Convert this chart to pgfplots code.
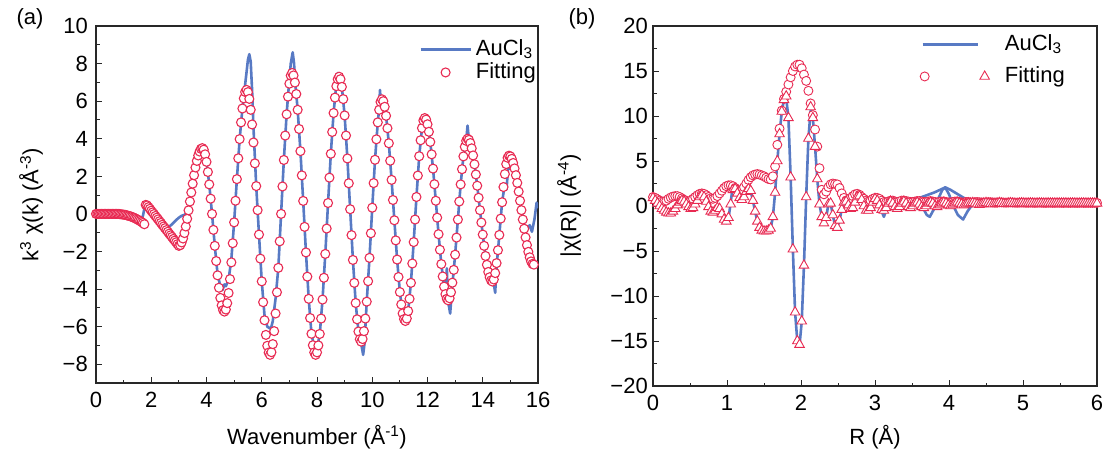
\documentclass[border=0pt]{standalone}
\usepackage{fontspec}
\setmainfont{Liberation Sans}
\usepackage{pgfplots}
\pgfplotsset{compat=1.18}
\definecolor{cblue}{RGB}{88,122,196}
\definecolor{cred}{RGB}{232,42,82}
\definecolor{caxis}{RGB}{40,40,40}
\pgfplotsset{
  myax/.style={
    scale only axis,
    axis line style={caxis, line width=1.1pt},
    every tick/.style={caxis, line width=1pt},
    tick align=inside,
    major tick length=6pt,
    minor tick length=3.5pt,
    xtick pos=lower, ytick pos=left,
    tick label style={font=\fontsize{22}{26}\selectfont},
    label style={font=\fontsize{22}{26}\selectfont},
    legend style={font=\fontsize{22}{26}\selectfont, draw=none, fill=none, inner sep=0pt,
      nodes={inner sep=0pt, text height=16pt, text depth=4.5pt}},
    legend cell align=left,
    xticklabel style={inner sep=0pt, yshift=-9pt},
  }
}
\begin{document}
\begin{tikzpicture}[font=\fontsize{22}{26}\selectfont]
\useasboundingbox (0,0) rectangle (1107pt,-452pt);
\node at (30pt,-19pt) {(a)};
\node at (582pt,-19pt) {(b)};
% ---------------- left panel ----------------
\begin{axis}[myax, at={(96pt,-383pt)}, anchor=south west, width=442pt, height=357pt,
  xmin=0, xmax=16, ymin=-9, ymax=10,
  xtick={0,2,...,16}, xticklabels={0,2,4,6,8,10,12,14,16}, minor xtick={1,3,...,15},
  ytick={-8,-6,...,10}, yticklabels={−8,−6,−4,−2,0,2,4,6,8,10}, minor ytick={-9,-7,...,9},
  yticklabel style={inner sep=0pt, xshift=-8pt},
  xlabel={Wavenumber (Å\textsuperscript{-1})},
  xlabel style={at={([yshift=-54pt]axis description cs:0.5,0)}, anchor=center},
  ylabel={k\textsuperscript{3} χ(k) (Å\textsuperscript{-3})},
  ylabel style={at={([xshift=-65pt]axis description cs:0,0.5)}, anchor=center},
  legend style={at={(axis description cs:1,1)}, anchor=north east, xshift=-2pt, yshift=-13pt,
    row sep=2.5pt, column sep=4pt},
]
\addplot[cblue, line width=2.6pt, line join=round,
  legend image code/.code={\draw[cblue, line width=2.6pt] (0pt,0pt) -- (50pt,0pt);}]
coordinates {(0,0)(0.5,0)(0.8,0)(1,-0.04)(1.2,-0.11)(1.4,-0.22)(1.6,-0.38)(1.7,-0.1)(1.78,0.5)
(1.9,0.35)(2,0.15)(2.1,-0.05)(2.2,-0.23)(2.3,-0.42)(2.4,-0.58)(2.5,-0.68)(2.6,-0.72)(2.7,-0.62)
(2.8,-0.48)(2.9,-0.33)(3,-0.2)(3.1,-0.1)(3.2,-0.05)(3.3,0.05)(3.4,0.66)(3.5,1.61)(3.6,2.47)
(3.7,3.11)(3.8,3.42)(3.85,3.45)(3.9,3.38)(4,2.77)(4.1,1.57)(4.2,0)(4.3,-1.7)(4.4,-3.2)(4.5,-3.85)
(4.58,-4.05)(4.65,-3.75)(4.7,-3.85)(4.8,-3.5)(4.9,-2.4)(5,-0.45)(5.1,1.85)(5.2,3.98)(5.3,5.61)
(5.4,6.9)(5.5,8.2)(5.55,8.5)(5.6,8.1)(5.65,6.6)(5.7,4.6)(5.8,1.48)(5.9,-1.1)(6,-3.59)(6.1,-5.4)
(6.2,-6)(6.3,-6.1)(6.35,-6)(6.4,-5.7)(6.5,-4.5)(6.6,-2.87)(6.7,0)(6.8,2.87)(6.9,5.3)(7,7.2)
(7.05,8)(7.12,8.6)(7.17,8)(7.2,7.2)(7.3,5.54)(7.4,3.34)(7.5,0.69)(7.6,-2.05)(7.7,-4.52)(7.8,-6.38)
(7.9,-7.1)(7.96,-7.35)(8,-7.2)(8.1,-6.39)(8.2,-4.56)(8.3,-2.13)(8.4,0.58)(8.5,3.2)(8.6,5.37)
(8.7,6.9)(8.75,7.5)(8.8,7.3)(8.9,6.76)(9,5.24)(9.1,2.95)(9.2,0.25)(9.3,-2.45)(9.4,-4.74)(9.5,-6.26)
(9.6,-6.9)(9.67,-7.5)(9.72,-6.9)(9.8,-4.67)(9.9,-2.34)(10,0.33)(10.1,2.88)(10.2,4.87)(10.25,5.6)
(10.28,6.6)(10.31,5.9)(10.4,5.95)(10.5,5.22)(10.6,3.76)(10.7,1.81)(10.8,-0.34)(10.9,-2.43)
(11,-4.16)(11.1,-5.3)(11.2,-5.75)(11.3,-5.17)(11.4,-3.67)(11.5,-1.5)(11.6,0.9)(11.7,3.07)
(11.8,4.57)(11.9,5.2)(12,4.77)(12.1,3.83)(12.2,2.41)(12.3,0.7)(12.4,-1.08)(12.5,-2.67)(12.6,-3.87)
(12.66,-4.3)(12.7,-2.9)(12.74,-4.6)(12.82,-5.3)(12.9,-3.8)(13,-2.17)(13.1,-0.3)(13.2,1.57)
(13.3,3.06)(13.4,3.9)(13.45,4.7)(13.5,3.9)(13.6,3.49)(13.7,2.64)(13.8,1.5)(13.9,0.2)(14,-1.1)
(14.1,-2.24)(14.2,-3.09)(14.3,-3.54)(14.4,-3.7)(14.45,-4.2)(14.5,-2.8)(14.6,-1.12)(14.7,0.62)
(14.8,1.6)(14.86,1.3)(14.92,2.5)(15,2.4)(15.1,2.6)(15.2,2.06)(15.3,1.19)(15.4,0.2)(15.5,-0.6)
(15.6,-0.8)(15.7,-0.6)(15.78,-0.95)(15.87,-0.3)(15.95,0.6)(15.99,0.3)};
\addlegendentry{AuCl\textsubscript{3}}
\addplot[only marks, mark=*, mark size=4.5pt, mark options={draw=cred, fill=white, line width=1.1pt},
  legend image code/.code={\path[draw=none] (0pt,0pt) -- (50pt,0pt); \draw[cred, line width=1.1pt, fill=white] (25pt,0pt) circle[radius=4.5pt];}]
coordinates {(0,0)(0.05,0)(0.1,0)(0.15,0)(0.2,0)(0.25,0)(0.3,0)(0.35,0)(0.4,0)(0.45,0)(0.5,0)
(0.55,0)(0.6,0)(0.65,0)(0.7,0)(0.75,0)(0.8,0)
(0.85,-0.01)(0.9,-0.02)(0.95,-0.03)(1,-0.04)(1.05,-0.05)(1.1,-0.07)(1.15,-0.09)(1.2,-0.11)
(1.25,-0.13)(1.3,-0.16)(1.35,-0.19)(1.4,-0.22)(1.45,-0.26)(1.5,-0.3)(1.55,-0.34)(1.6,-0.38)
(1.65,-0.43)(1.7,-0.48)(1.75,-0.55)
(1.8,0.48)(1.85,0.45)(1.9,0.36)(1.95,0.27)(2,0.17)(2.05,0.08)(2.1,-0.01)(2.15,-0.11)(2.2,-0.2)
(2.25,-0.29)(2.3,-0.39)(2.35,-0.48)(2.4,-0.58)(2.45,-0.67)(2.5,-0.76)(2.55,-0.86)(2.6,-0.95)
(2.65,-1.05)(2.7,-1.14)(2.75,-1.23)(2.8,-1.33)(2.85,-1.42)(2.9,-1.51)(2.95,-1.61)(3,-1.7)
(3.05,-1.66)(3.1,-1.52)(3.15,-1.31)(3.2,-1.02)(3.25,-0.67)(3.3,-0.26)(3.35,0.19)(3.4,0.66)
(3.45,1.14)(3.5,1.61)(3.55,2.06)(3.6,2.47)(3.65,2.82)(3.7,3.11)(3.75,3.32)(3.8,3.46)(3.85,3.5)
(3.9,3.42)(3.95,3.17)(4,2.77)(4.05,2.23)(4.1,1.57)(4.15,0.81)(4.2,0)(4.25,-0.85)(4.3,-1.7)
(4.35,-2.51)(4.4,-3.27)(4.45,-3.93)(4.5,-4.47)(4.55,-4.87)(4.6,-5.12)(4.65,-5.2)
(4.7,-5.09)(4.75,-4.75)(4.8,-4.21)(4.85,-3.47)(4.9,-2.58)(4.95,-1.56)(5,-0.45)(5.05,0.7)
(5.1,1.85)(5.15,2.96)(5.2,3.98)(5.25,4.87)(5.3,5.61)(5.35,6.15)(5.4,6.49)(5.45,6.6)
(5.5,6.48)(5.55,6.12)(5.6,5.54)(5.65,4.76)(5.7,3.8)(5.75,2.69)(5.8,1.48)(5.85,0.2)(5.9,-1.1)
(5.95,-2.38)(6,-3.59)(6.05,-4.7)(6.1,-5.66)(6.15,-6.44)(6.2,-7.02)(6.25,-7.38)(6.3,-7.5)
(6.35,-7.36)(6.4,-6.93)(6.45,-6.24)(6.5,-5.3)(6.55,-4.17)(6.6,-2.87)(6.65,-1.46)(6.7,0)
(6.75,1.46)(6.8,2.87)(6.85,4.17)(6.9,5.3)(6.95,6.24)(7,6.93)(7.05,7.36)(7.1,7.5)
(7.15,7.37)(7.2,6.99)(7.25,6.38)(7.3,5.54)(7.35,4.52)(7.4,3.34)(7.45,2.05)(7.5,0.69)(7.55,-0.69)
(7.6,-2.05)(7.65,-3.34)(7.7,-4.52)(7.75,-5.54)(7.8,-6.38)(7.85,-6.99)(7.9,-7.37)(7.95,-7.5)
(8,-7.37)(8.05,-7)(8.1,-6.39)(8.15,-5.57)(8.2,-4.56)(8.25,-3.4)(8.3,-2.13)(8.35,-0.78)(8.4,0.58)
(8.45,1.93)(8.5,3.2)(8.55,4.36)(8.6,5.37)(8.65,6.19)(8.7,6.8)(8.75,7.17)(8.8,7.3)
(8.85,7.17)(8.9,6.76)(8.95,6.11)(9,5.24)(9.05,4.17)(9.1,2.95)(9.15,1.63)(9.2,0.25)(9.25,-1.13)
(9.3,-2.45)(9.35,-3.67)(9.4,-4.74)(9.45,-5.61)(9.5,-6.26)(9.55,-6.67)(9.6,-6.8)
(9.65,-6.66)(9.7,-6.24)(9.75,-5.57)(9.8,-4.67)(9.85,-3.58)(9.9,-2.34)(9.95,-1.03)(10,0.33)
(10.05,1.64)(10.1,2.88)(10.15,3.97)(10.2,4.87)(10.25,5.54)(10.3,5.96)(10.35,6.1)
(10.4,6)(10.45,5.7)(10.5,5.22)(10.55,4.56)(10.6,3.76)(10.65,2.83)(10.7,1.81)(10.75,0.74)
(10.8,-0.34)(10.85,-1.41)(10.9,-2.43)(10.95,-3.36)(11,-4.16)(11.05,-4.82)(11.1,-5.3)(11.15,-5.6)(11.2,-5.7)
(11.25,-5.57)(11.3,-5.17)(11.35,-4.52)(11.4,-3.67)(11.45,-2.64)(11.5,-1.5)(11.55,-0.3)(11.6,0.9)
(11.65,2.04)(11.7,3.07)(11.75,3.92)(11.8,4.57)(11.85,4.97)(11.9,5.1)
(11.95,5.02)(12,4.77)(12.05,4.37)(12.1,3.83)(12.15,3.17)(12.2,2.41)(12.25,1.58)(12.3,0.7)
(12.35,-0.2)(12.4,-1.08)(12.45,-1.91)(12.5,-2.67)(12.55,-3.33)(12.6,-3.87)(12.65,-4.27)(12.7,-4.52)(12.75,-4.6)
(12.8,-4.49)(12.85,-4.17)(12.9,-3.66)(12.95,-2.98)(13,-2.17)(13.05,-1.26)(13.1,-0.3)(13.15,0.66)
(13.2,1.57)(13.25,2.38)(13.3,3.06)(13.35,3.57)(13.4,3.89)(13.45,4)
(13.5,3.94)(13.55,3.77)(13.6,3.49)(13.65,3.11)(13.7,2.64)(13.75,2.1)(13.8,1.5)(13.85,0.86)
(13.9,0.2)(13.95,-0.46)(14,-1.1)(14.05,-1.7)(14.1,-2.24)(14.15,-2.71)(14.2,-3.09)(14.25,-3.37)(14.3,-3.54)(14.35,-3.6)
(14.4,-3.49)(14.45,-3.15)(14.5,-2.62)(14.55,-1.93)(14.6,-1.12)(14.65,-0.25)(14.7,0.62)(14.75,1.43)
(14.8,2.12)(14.85,2.65)(14.9,2.99)(14.95,3.1)
(15,3.06)(15.05,2.93)(15.1,2.71)(15.15,2.42)(15.2,2.06)(15.25,1.65)(15.3,1.19)(15.35,0.7)(15.4,0.2)
(15.45,-0.3)(15.5,-0.79)(15.55,-1.25)(15.6,-1.66)(15.65,-2.02)(15.7,-2.31)(15.75,-2.53)(15.8,-2.66)(15.85,-2.7)};
\addlegendentry{Fitting}
\end{axis}
% ---------------- right panel ----------------
\begin{axis}[myax, at={(653pt,-386pt)}, anchor=south west, width=444pt, height=360pt,
  xmin=0, xmax=6, ymin=-20, ymax=20,
  xtick={0,1,...,6}, xticklabels={0,1,2,3,4,5,6}, minor xtick={0.5,1.5,...,5.5},
  ytick={-20,-15,...,20}, yticklabels={−20,−15,−10,−5,0,5,10,15,20}, minor ytick={-17.5,-12.5,...,17.5},
  yticklabel style={inner sep=0pt, xshift=-5pt},
  xlabel={R (Å)},
  xlabel style={at={([yshift=-51pt]axis description cs:0.5,0)}, anchor=center},
  ylabel={|χ(R)| (Å\textsuperscript{-4})},
  ylabel style={at={([xshift=-84pt]axis description cs:0,0.5)}, anchor=center},
  legend style={at={(axis description cs:1,1)}, anchor=north east, xshift=-32pt, yshift=-8pt,
    row sep=11.5pt, column sep=15pt},
]
\addplot[cblue, line width=2.6pt, line join=round,
  legend image code/.code={\path[draw=none] (-5pt,0pt) -- (65pt,0pt); \draw[cblue, line width=2.6pt] (-2pt,0pt) -- (53pt,0pt);}]
coordinates {(0,0.9)(0.06,0.3)(0.12,-0.3)(0.18,-0.7)(0.24,-0.8)(0.3,-0.3)(0.36,0.4)(0.42,0.5)
(0.48,-0.1)(0.54,-0.2)(0.6,0.6)(0.66,1.2)(0.72,0.5)(0.78,-0.6)(0.84,-0.5)(0.9,-0.3)(0.93,-1)
(0.96,-1.7)(0.99,-1.9)(1.02,-1.4)(1.05,0.4)(1.08,2.4)(1.11,2.3)(1.14,1.5)(1.17,0.9)(1.2,0.7)
(1.23,1)(1.26,1.6)(1.29,1.9)(1.32,1.7)(1.35,0.6)(1.38,-0.6)(1.41,-1.7)(1.44,-2.4)(1.47,-2.7)
(1.5,-2.8)(1.53,-2.8)(1.56,-2.7)(1.59,-2.5)(1.62,-1.2)(1.65,1.5)(1.68,5)(1.71,8)(1.74,10.5)
(1.77,11.8)(1.8,12)(1.83,9.8)(1.86,3.2)(1.89,-4.8)(1.92,-11.8)(1.95,-15)(1.98,-15.5)(2.01,-12.8)
(2.04,-6.6)(2.07,1)(2.1,7.5)(2.13,10.6)(2.16,9.8)(2.19,6.6)(2.22,3)(2.25,0.2)(2.28,-1.2)
(2.31,-1.9)(2.34,-1.3)(2.37,0.2)(2.4,0.3)(2.43,-1)(2.46,-2.2)(2.49,-2.4)(2.52,-1.6)(2.55,-0.4)
(2.58,0.4)(2.61,0.5)(2.64,0.1)(2.67,-0.3)(2.7,-0.2)(2.76,1)(2.82,0.7)(2.88,-0.5)(2.94,-0.2)
(3,0.8)(3.06,0)(3.12,-1.2)(3.18,0.2)(3.24,0.3)(3.3,-0.3)(3.36,0.3)(3.42,0.3)(3.48,-0.2)(3.54,0.3)
(3.6,0.2)(3.66,-0.4)(3.7,-1)(3.74,-1.2)(3.8,-0.3)(3.86,0.9)(3.91,1.8)(3.95,2.05)(4,1.3)(4.06,0)
(4.12,-1)(4.19,-1.5)(4.25,-0.6)(4.31,0.1)(4.4,0.3)(4.5,0.25)(4.6,0.35)(4.7,0.3)(4.8,0.3)(4.9,0.35)
(5,0.3)(5.2,0.3)(5.4,0.3)(5.6,0.3)(5.8,0.3)(6,0.3)};
\addlegendentry{AuCl\textsubscript{3}}
\addplot[cblue, line width=2.6pt, line join=round, forget plot]
coordinates {(3.5,0.5)(3.6,0.9)(3.7,1.2)(3.8,1.5)(3.88,1.8)(3.95,2.07)(4.02,1.8)(4.1,1.4)
(4.2,0.9)(4.3,0.5)(4.4,0.3)};
\addplot[only marks, mark=*, mark size=4.5pt, mark options={draw=cred, fill=white, line width=0.9pt},
  legend image code/.code={\draw[cred, line width=0.9pt, fill=white] (0pt,0pt) circle[radius=4.5pt];
    \draw[cred, line width=0.9pt, fill=white] (60pt,5.5pt) -- (55.24pt,-2.75pt) -- (64.76pt,-2.75pt) -- cycle;}]
coordinates {(0,1)(0.03,0.9)(0.06,0.75)(0.09,0.6)(0.12,0.5)(0.15,0.5)(0.18,0.6)(0.21,0.8)
(0.24,0.95)(0.27,1.05)(0.3,1.1)(0.33,1.1)(0.36,1)(0.39,0.85)(0.42,0.7)(0.45,0.55)(0.48,0.5)
(0.51,0.6)(0.54,0.8)(0.57,1)(0.6,1.2)(0.63,1.35)(0.66,1.4)(0.69,1.35)(0.72,1.2)(0.75,1)
(0.78,0.85)(0.81,0.8)(0.84,0.9)(0.87,1.1)(0.9,1.4)(0.93,1.7)(0.96,2)(0.99,2.2)(1.02,2.3)
(1.05,2.3)(1.08,2.2)(1.11,2)(1.14,1.8)(1.17,1.7)(1.2,1.8)(1.23,2.1)(1.26,2.5)(1.29,2.9)(1.32,3.2)
(1.35,3.4)(1.38,3.5)(1.41,3.55)(1.44,3.5)(1.47,3.4)(1.5,3.3)(1.53,3.15)(1.56,3)(1.59,2.95)
(1.62,3.3)(1.65,4.4)(1.68,6.8)(1.71,8.6)(1.74,10.6)(1.77,11.9)(1.8,12.7)(1.83,13.5)(1.86,14.3)
(1.89,15)(1.92,15.5)(1.95,15.7)(1.98,15.7)(2.01,15.3)(2.04,14.6)(2.07,13.9)(2.1,12.8)(2.13,11.4)
(2.16,10.1)(2.19,8.5)(2.22,6.6)(2.25,4.2)(2.28,1.8)(2.31,1.3)(2.34,1.6)(2.37,2.1)(2.4,2.4)
(2.43,2.5)(2.46,2.45)(2.49,2.4)(2.52,2)(2.55,1.4)(2.58,0.9)(2.61,0.6)(2.64,0.7)(2.67,0.9)(2.7,1.1)
(2.73,1.3)(2.76,1.35)(2.79,1.25)(2.82,1)(2.85,0.8)(2.88,0.6)(2.91,0.5)(2.94,0.6)(2.97,0.8)(3,0.9)
(3.03,0.9)(3.06,0.8)(3.09,0.6)(3.12,0.45)(3.15,0.4)(3.18,0.5)(3.21,0.6)(3.24,0.6)(3.27,0.5)
(3.3,0.45)(3.33,0.5)(3.36,0.6)(3.39,0.6)(3.42,0.55)(3.45,0.5)(3.48,0.45)(3.51,0.45)(3.54,0.5)
(3.57,0.55)(3.6,0.55)(3.63,0.5)(3.66,0.45)(3.69,0.45)(3.72,0.5)(3.75,0.55)(3.78,0.5)(3.81,0.45)
(3.84,0.4)(3.87,0.45)(3.9,0.5)(3.93,0.5)(3.96,0.45)(3.99,0.4)(4.02,0.4)(4.05,0.45)(4.08,0.5)
(4.11,0.5)(4.14,0.45)(4.17,0.4)(4.2,0.4)(4.23,0.45)(4.26,0.45)(4.29,0.4)(4.32,0.4)(4.35,0.42)
(4.38,0.44)(4.41,0.42)(4.44,0.4)(4.47,0.38)(4.5,0.4)(4.53,0.42)(4.56,0.42)(4.59,0.4)(4.62,0.38)
(4.65,0.38)(4.68,0.4)(4.71,0.4)(4.74,0.38)(4.77,0.37)(4.8,0.38)(4.83,0.39)(4.86,0.38)(4.89,0.37)
(4.92,0.36)(4.95,0.37)(4.98,0.38)(5.01,0.37)(5.04,0.36)(5.07,0.36)(5.1,0.37)(5.13,0.36)(5.16,0.35)
(5.19,0.36)(5.22,0.37)(5.25,0.36)(5.28,0.35)(5.31,0.35)(5.34,0.36)(5.37,0.36)(5.4,0.35)(5.43,0.35)
(5.46,0.36)(5.49,0.36)(5.52,0.35)(5.55,0.35)(5.58,0.36)(5.61,0.35)(5.64,0.35)(5.67,0.36)(5.7,0.35)
(5.73,0.35)(5.76,0.35)(5.79,0.36)(5.82,0.35)(5.85,0.35)(5.88,0.35)(5.91,0.35)(5.94,0.35)(5.97,0.35)(6,0.35)};
\addlegendentry{Fitting}
\addplot[only marks, mark=triangle*, mark size=5.5pt, mark options={draw=cred, fill=white, line width=0.9pt}, forget plot]
coordinates {(0,0.9)(0.03,0.6)(0.06,0.3)(0.09,0)(0.12,-0.3)(0.15,-0.5)(0.18,-0.7)(0.21,-0.8)
(0.24,-0.8)(0.27,-0.6)(0.3,-0.3)(0.33,0.1)(0.36,0.4)(0.39,0.6)(0.42,0.5)(0.45,0.2)(0.48,-0.1)
(0.51,-0.3)(0.54,-0.2)(0.57,0.2)(0.6,0.6)(0.63,1)(0.66,1.2)(0.69,1)(0.72,0.5)(0.75,-0.1)
(0.78,-0.6)(0.81,-0.7)(0.84,-0.5)(0.87,-0.2)(0.9,-0.3)(0.93,-0.9)(0.96,-1.5)(0.99,-1.7)
(1.02,-1.3)(1.05,0.2)(1.08,1.8)(1.11,1.9)(1.14,1.4)(1.17,0.9)(1.2,0.7)(1.23,1)(1.26,1.6)(1.29,1.9)
(1.32,1.7)(1.35,0.6)(1.38,-0.6)(1.41,-1.7)(1.44,-2.4)(1.47,-2.7)(1.5,-2.8)(1.53,-2.8)(1.56,-2.7)
(1.59,-2.5)(1.62,-1.2)(1.65,1.5)(1.68,5)(1.71,8)(1.74,10.5)(1.77,11.8)(1.8,12.2)(1.83,9.8)
(1.86,3.2)(1.89,-4.8)(1.92,-11.8)(1.95,-15)(1.98,-15.4)(2.01,-12.8)(2.04,-6.6)(2.07,1)(2.1,7.5)
(2.13,11)(2.16,9.8)(2.19,6.6)(2.22,3)(2.25,0.2)(2.28,-1.2)(2.31,-1.9)(2.34,-1.3)(2.37,0.2)
(2.4,0.3)(2.43,-1)(2.46,-2.2)(2.49,-2.4)(2.52,-1.6)(2.55,-0.4)(2.58,0.4)(2.61,0.5)(2.64,0.1)
(2.67,-0.3)(2.7,-0.2)(2.73,0.4)(2.76,1)(2.79,1.1)(2.82,0.7)(2.85,0)(2.88,-0.5)(2.91,-0.5)
(2.94,-0.2)(2.97,0.4)(3,0.8)(3.03,0.6)(3.06,0.1)(3.09,-0.4)(3.12,-0.5)(3.15,-0.2)(3.18,0.3)
(3.21,0.5)(3.24,0.3)(3.27,-0.1)(3.3,-0.3)(3.33,-0.1)(3.36,0.3)(3.39,0.5)(3.42,0.3)(3.45,-0.1)
(3.48,-0.2)(3.51,0)(3.54,0.3)(3.57,0.4)(3.6,0.2)(3.63,-0.1)(3.66,-0.2)(3.69,0)(3.72,0.3)
(3.75,0.4)(3.78,0.3)(3.81,0)(3.84,-0.1)(3.87,0.1)(3.9,0.3)(3.93,0.4)(3.96,0.3)(3.99,0.1)(4.02,0)
(4.05,0.1)(4.08,0.3)(4.11,0.4)(4.14,0.3)(4.17,0.2)(4.2,0.1)(4.23,0.2)(4.26,0.3)(4.29,0.3)
(4.32,0.35)(4.35,0.3)(4.38,0.2)(4.41,0.15)(4.44,0.2)(4.47,0.3)(4.5,0.35)(4.53,0.3)(4.56,0.25)
(4.59,0.2)(4.62,0.25)(4.65,0.3)(4.68,0.35)(4.71,0.3)(4.74,0.25)(4.77,0.25)(4.8,0.3)(4.83,0.33)
(4.86,0.3)(4.89,0.27)(4.92,0.27)(4.95,0.3)(4.98,0.32)(5.01,0.3)(5.04,0.29)(5.07,0.3)(5.1,0.31)
(5.13,0.3)(5.16,0.29)(5.19,0.3)(5.22,0.31)(5.25,0.3)(5.28,0.29)(5.31,0.3)(5.34,0.31)(5.37,0.3)
(5.4,0.29)(5.43,0.3)(5.46,0.31)(5.49,0.3)(5.52,0.3)(5.55,0.3)(5.58,0.31)(5.61,0.3)(5.64,0.3)
(5.67,0.3)(5.7,0.3)(5.73,0.3)(5.76,0.3)(5.79,0.3)(5.82,0.3)(5.85,0.3)(5.88,0.3)(5.91,0.3)
(5.94,0.3)(5.97,0.3)(6,0.3)};
\end{axis}
\end{tikzpicture}
\end{document}
